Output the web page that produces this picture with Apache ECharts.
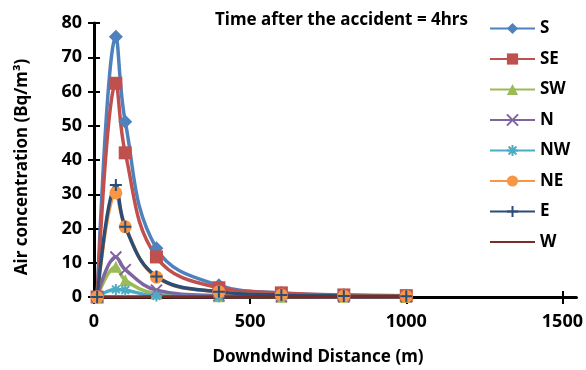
<!DOCTYPE html>
<html><head><meta charset="utf-8">
<script src="https://cdn.jsdelivr.net/npm/echarts@6/dist/echarts.min.js"></script>
<style>html,body{margin:0;padding:0;background:#fff}#c{width:586px;height:370px}</style>
</head><body><div id="c"></div>
<script>
var distances = [10, 70, 100, 200, 400, 600, 800, 1000];
var S  = [0, 76.0, 51.2, 14.2, 3.4, 1.2, 0.6, 0.4];
var SE = [0, 62.4, 42.1, 11.7, 2.7, 1.2, 0.6, 0.4];
var SW = [0, 8.8, 4.9, 1.0, 0.2, 0.1, 0.05, 0.03];
var N  = [0, 11.7, 8.0, 2.0, 0.4, 0.15, 0.08, 0.05];
var NW = [0, 2.2, 2.0, 0.3, 0.1, 0.05, 0.03, 0.02];
var NE = [0, 30.4, 20.5, 5.8, 1.5, 0.6, 0.3, 0.2];
var E  = [0, 32.7, 20.5, 6.0, 1.5, 0.6, 0.3, 0.2];
var W  = [0, 0, 0, 0, 0, 0, 0, 0];
var seriesNames = ['S','SE','SW','N','NW','NE','E','W'];
var xTicks = [0, 500, 1000, 1500];
var titleText = 'Time after the accident = 4hrs';
var xTitle = 'Downdwind Distance (m)';
var yTitle = 'Air concentration (Bq/m³)';

var FONT = 'Noto Sans';
var colors = ['#4F81BD','#C0504D','#9BBB59','#8064A2','#4BACC6','#F79646','#2C4D75','#772C2A'];
var symbols = ['diamond','rect','triangle',
  'path://M0,0L10,10M10,0L0,10',
  'path://M5,0L5,10M0,5L10,5M1.5,1.5L8.5,8.5M8.5,1.5L1.5,8.5',
  'circle',
  'path://M5,0L5,10M0,5L10,5',
  'none'];
var sizes = [14,13,12,11,11,13,12,0];
var strokeOnly = [false,false,false,true,true,false,true,false];
var allData = [S,SE,SW,N,NW,NE,E,W];

function pairs(v){ return distances.map(function(d,i){ return [d, v[i]]; }); }

var series = seriesNames.map(function(name, k){
  return {
    name: name, type: 'line', xAxisIndex: 0, yAxisIndex: 0,
    data: pairs(allData[k]),
    smooth: 0.4,
    symbol: symbols[k], symbolSize: sizes[k], showSymbol: symbols[k] !== 'none',
    lineStyle: {color: colors[k], width: 3.5},
    itemStyle: strokeOnly[k] ? {color: colors[k], borderColor: colors[k], borderWidth: 2} : {color: colors[k]},
    emphasis: {disabled: true},
    animation: false
  };
});

var legendData = seriesNames.map(function(n){
  return n === 'W' ? {name: n, itemStyle: {opacity: 0}} : {name: n};
});

var chart = echarts.init(document.getElementById('c'), null, {renderer: 'canvas'});
chart.setOption({
  animation: false,
  color: colors,
  title: {text: titleText, left: 215, top: 12, padding: 0,
    textStyle: {fontFamily: FONT, fontWeight: 'bold', fontSize: 17, color: '#000'}},
  legend: {
    orient: 'vertical', left: 489, top: 20, padding: 0,
    itemWidth: 45, itemHeight: 14, itemGap: 13.5,
    data: legendData,
    textStyle: {fontFamily: FONT, fontWeight: 'bold', fontSize: 17, color: '#000'}
  },
  grid: {left: 94, right: 9, top: 23, bottom: 73, containLabel: false},
  xAxis: [{
    type: 'value', min: 0, max: 1545,
    axisLine: {show: true, onZero: false, lineStyle: {color: '#000', width: 3}},
    axisTick: {show: true, length: 7, customValues: xTicks, lineStyle: {color: '#000', width: 2}},
    axisLabel: {customValues: xTicks, margin: 16, fontFamily: FONT, fontWeight: 'bold', fontSize: 18, color: '#000',
      formatter: function(v){ return String(v); }},
    splitLine: {show: false}
  }, {
    type: 'value', min: 0, max: 1545, position: 'bottom',
    axisLine: {show: false},
    axisTick: {show: true, inside: true, length: 6, customValues: xTicks, lineStyle: {color: '#000', width: 2}},
    axisLabel: {show: false}, splitLine: {show: false}
  }],
  yAxis: [{
    type: 'value', min: 0, max: 80, interval: 10,
    axisLine: {show: true, onZero: false, lineStyle: {color: '#000', width: 3}},
    axisTick: {show: true, length: 6, lineStyle: {color: '#000', width: 2}},
    axisLabel: {margin: 12, fontFamily: FONT, fontWeight: 'bold', fontSize: 18, color: '#000'},
    splitLine: {show: false}
  }, {
    type: 'value', min: 0, max: 80, interval: 10, position: 'left',
    axisLine: {show: false},
    axisTick: {show: true, inside: true, length: 6, lineStyle: {color: '#000', width: 2}},
    axisLabel: {show: false}, splitLine: {show: false}
  }],
  graphic: [
    {type: 'text', x: 318, y: 357, silent: true,
      style: {text: xTitle, font: 'bold 17px "Noto Sans"', fill: '#000', textAlign: 'center', textVerticalAlign: 'middle'}},
    {type: 'text', x: 22, y: 167, rotation: Math.PI/2, silent: true,
      style: {text: yTitle, font: 'bold 17px "Noto Sans"', fill: '#000', textAlign: 'center', textVerticalAlign: 'middle'}}
  ],
  series: series
});
</script></body></html>
